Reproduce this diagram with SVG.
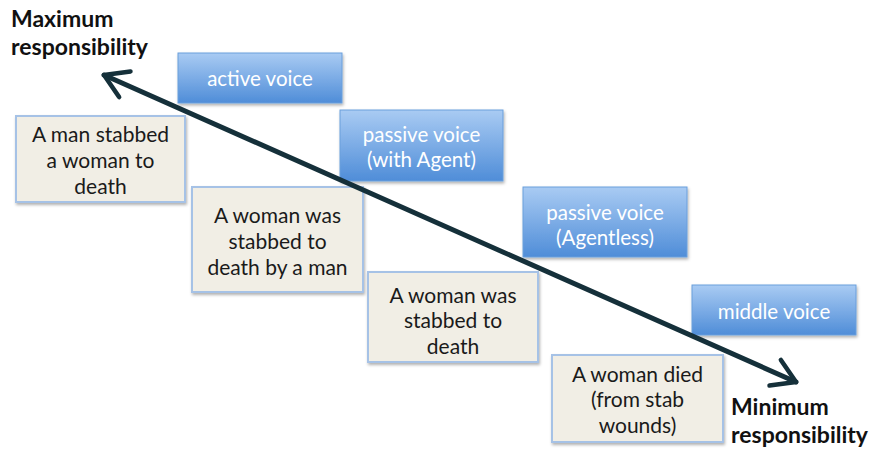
<svg xmlns="http://www.w3.org/2000/svg" width="872" height="450" viewBox="0 0 872 450">
<defs>
<linearGradient id="blueGrad" x1="0" y1="0" x2="0" y2="1">
<stop offset="0" stop-color="#a9cbf3"/>
<stop offset="1" stop-color="#4f8dd8"/>
</linearGradient>
<filter id="shadow" x="-10%" y="-10%" width="125%" height="130%">
<feDropShadow dx="1" dy="2" stdDeviation="1.5" flood-color="#000" flood-opacity="0.3"/>
</filter>
<marker id="head" viewBox="0 0 10 10" refX="8" refY="5" markerWidth="7" markerHeight="7" orient="auto-start-reverse" markerUnits="strokeWidth">
<path d="M1.5,1 L8,5 L1.5,9" fill="none" stroke="#15303a" stroke-width="1.3" stroke-linecap="round" stroke-linejoin="round"/>
</marker>
<style>
.blue rect{fill:url(#blueGrad);stroke:#6b9fdc;stroke-width:1;filter:url(#shadow)}
.beige rect{fill:#f1eee5;stroke:#a6c2e6;stroke-width:2;filter:url(#shadow)}
.bt{font-family:Lato,"Open Sans","Liberation Sans",sans-serif;font-size:20.5px;fill:#ffffff;text-anchor:middle}
.kt{font-family:Lato,"Open Sans","Liberation Sans",sans-serif;font-size:21px;fill:#1a1a1a;text-anchor:middle}
.lbl{font-family:Lato,"Open Sans","Liberation Sans",sans-serif;font-size:23px;font-weight:bold;fill:#111}
</style>
</defs>
<rect width="872" height="450" fill="#ffffff"/>

<g id="label-max"><text class="lbl" x="11" y="27">Maximum</text><text class="lbl" x="11" y="55">responsibility</text></g>
<g id="label-min"><text class="lbl" x="731" y="415">Minimum</text><text class="lbl" x="731" y="443">responsibility</text></g>

<g id="active-voice" class="blue"><rect x="178" y="53" width="164" height="50"/><text class="bt" x="260" y="86">active voice</text></g>
<g id="passive-agent" class="blue"><rect x="340" y="110" width="163" height="71"/><text class="bt" x="421.5" y="142">passive voice</text><text class="bt" x="421.5" y="167">(with Agent)</text></g>
<g id="passive-agentless" class="blue"><rect x="523" y="187" width="164" height="70"/><text class="bt" x="605" y="220">passive voice</text><text class="bt" x="605" y="245">(Agentless)</text></g>
<g id="middle-voice" class="blue"><rect x="692" y="285" width="164" height="50"/><text class="bt" x="774" y="319">middle voice</text></g>

<g id="sent-active" class="beige"><rect x="16" y="116" width="169" height="86"/><text class="kt" x="100.5" y="142">A man stabbed</text><text class="kt" x="100.5" y="168">a woman to</text><text class="kt" x="100.5" y="194">death</text></g>
<g id="sent-passive-agent" class="beige"><rect x="192" y="187" width="171" height="105"/><text class="kt" x="277.5" y="223">A woman was</text><text class="kt" x="277.5" y="249">stabbed to</text><text class="kt" x="277.5" y="275">death by a man</text></g>
<g id="sent-passive-agentless" class="beige"><rect x="368" y="272" width="170" height="90"/><text class="kt" x="453" y="303">A woman was</text><text class="kt" x="453" y="328">stabbed to</text><text class="kt" x="453" y="354">death</text></g>
<g id="sent-middle" class="beige"><rect x="552" y="355" width="171" height="87"/><text class="kt" x="637.5" y="382">A woman died</text><text class="kt" x="637.5" y="407">(from stab</text><text class="kt" x="637.5" y="433">wounds)</text></g>

<g id="connectors">
<line x1="104" y1="75" x2="796" y2="382" stroke="#15303a" stroke-width="5" stroke-linecap="round" marker-start="url(#head)" marker-end="url(#head)"/>
</g>
</svg>
